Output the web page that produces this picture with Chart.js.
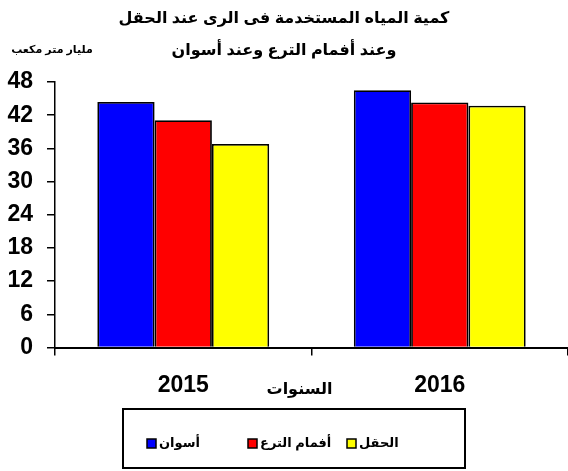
<!DOCTYPE html>
<html>
<head>
<meta charset="utf-8">
<script src="https://cdn.jsdelivr.net/npm/chart.js@4.4.1/dist/chart.umd.min.js"></script>
<style>
  html, body { margin: 0; padding: 0; background: #fff; }
  #wrap { width: 568px; height: 471px; }
</style>
</head>
<body>
<div id="wrap"><canvas id="chart" width="568" height="471"></canvas></div>
<script>
// بيانات الرسم
const years = ['2015', '2016'];
const seriesNames = ['أسوان', 'أفمام الترع', 'الحقل'];
const aswan = [44.4, 46.5];
const canals = [41.1, 44.3];
const field = [36.8, 43.7];
const seriesColors = ['#0000ff', '#ff0000', '#ffff00'];
const yTicks = [0, 6, 12, 18, 24, 30, 36, 42, 48];

const FONT = "'Liberation Sans', Arial, 'DejaVu Sans', sans-serif";

// نصوص إضافية والإطار حول مفتاح الرسم
const extrasPlugin = {
    id: 'extras',
    afterDraw(chart) {
        const ctx = chart.ctx;
        const area = chart.chartArea;
        ctx.save();
        ctx.fillStyle = '#000';
        // وحدة المحور الرأسي
        ctx.font = 'bold 11px ' + FONT;
        ctx.textAlign = 'center';
        ctx.textBaseline = 'middle';
        ctx.fillText('مليار متر مكعب', 52, 50);
        // عنوان المحور الأفقي
        ctx.font = 'bold 16px ' + FONT;
        ctx.fillText('السنوات', (area.left + area.right) / 2 - 12, 390);

        // مفتاح الرسم
        ctx.lineWidth = 2;
        ctx.strokeStyle = '#000';
        ctx.strokeRect(123, 409, 342, 59);
        const itemX = [147, 248, 347];
        ctx.font = 'bold 13px ' + FONT;
        ctx.textAlign = 'left';
        chart.data.datasets.forEach((ds, i) => {
            ctx.fillStyle = ds.backgroundColor;
            ctx.fillRect(itemX[i], 439, 9, 9);
            ctx.lineWidth = 1.5;
            ctx.strokeRect(itemX[i], 439, 9, 9);
            ctx.fillStyle = '#000';
            ctx.fillText(ds.label, itemX[i] + 12, 443);
        });
        ctx.restore();
    }
};

const values = [aswan, canals, field];

new Chart(document.getElementById('chart'), {
    type: 'bar',
    data: {
        labels: years,
        datasets: values.map((v, i) => ({
            label: seriesNames[i],
            data: v,
            backgroundColor: seriesColors[i],
            borderColor: '#000',
            borderWidth: 1.8,
            categoryPercentage: 0.67,
            barPercentage: 1.0
        }))
    },
    options: {
        responsive: false,
        animation: false,
        layout: {
            padding: { left: 0, right: 0, top: 0, bottom: 76 }
        },
        plugins: {
            legend: { display: false },
            tooltip: { enabled: false },
            title: {
                display: true,
                text: ['كمية المياه المستخدمة فى الرى عند الحقل', 'وعند أفمام الترع وعند أسوان'],
                color: '#000',
                font: { family: FONT, size: 16, weight: 'bold', lineHeight: 2 },
                padding: { top: 3, bottom: 15 }
            }
        },
        scales: {
            x: {
                afterFit(axis) {
                    axis.height = 47.5;
                },
                grid: {
                    offset: true,
                    drawOnChartArea: false,
                    color: '#000',
                    tickLength: 8,
                    lineWidth: 1.5
                },
                border: { color: '#000', width: 2 },
                ticks: {
                    color: '#000',
                    padding: 16,
                    font: { family: FONT, size: 23, weight: 'bold' }
                }
            },
            y: {
                min: 0,
                max: 48,
                afterBuildTicks(axis) {
                    axis.ticks = yTicks.map(v => ({ value: v }));
                },
                afterFit(axis) {
                    axis.width = 55;
                },
                grid: {
                    drawOnChartArea: false,
                    color: '#000',
                    tickLength: 8,
                    lineWidth: 1.5
                },
                border: { color: '#000', width: 1.5 },
                ticks: {
                    color: '#000',
                    padding: 14,
                    font: { family: FONT, size: 23, weight: 'bold' }
                }
            }
        }
    },
    plugins: [extrasPlugin]
});
</script>
</body>
</html>
